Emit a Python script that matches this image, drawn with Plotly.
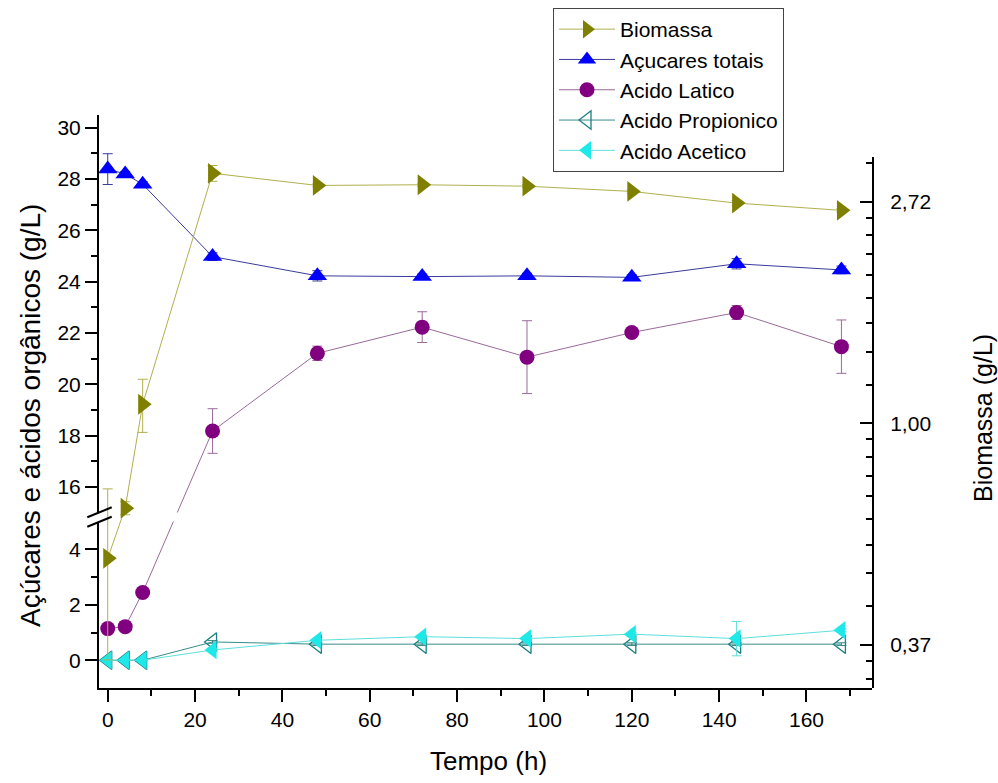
import math
import numpy as np
import plotly.graph_objects as go

# ---------------- data ----------------
tempo = [0, 4, 8, 24, 48, 72, 96, 120, 144, 168]
biomassa = [0.544, 0.682, 1.09, 3.09, 2.925, 2.934, 2.915, 2.847, 2.701, 2.614]
biomassa_err = [0.20, 0.02, 0.13, 0.11, 0.02, 0.02, 0.02, 0.02, 0.03, 0.02]
acucares = [28.39, 28.2, 27.8, 24.98, 24.23, 24.2, 24.23, 24.17, 24.7, 24.46]
acucares_err = [0.6, 0.1, 0.1, 0.15, 0.2, 0.1, 0.1, 0.1, 0.2, 0.15]
latico = [1.14, 1.21, 2.44, 18.18, 21.21, 22.23, 21.06, 22.02, 22.8, 21.47]
latico_err = [0.05, 0.05, 0.05, 0.87, 0.28, 0.6, 1.42, 0.1, 0.27, 1.04]
propionico = [0, 0, 0, 0.66, 0.58, 0.58, 0.58, 0.58, 0.58, 0.58]
propionico_err = [0, 0, 0, 0.05, 0.05, 0.05, 0.05, 0.05, 0.05, 0.05]
acetico = [0, 0, 0, 0.37, 0.72, 0.85, 0.78, 0.94, 0.78, 1.08]
acetico_err = [0, 0, 0, 0.05, 0.05, 0.05, 0.05, 0.05, 0.62, 0.05]

x_ticks = [0, 20, 40, 60, 80, 100, 120, 140, 160]
low_ticks = [0, 2, 4]
up_ticks = [16, 18, 20, 22, 24, 26, 28, 30]
bio_ticks = [math.e ** -1, 1.0, math.e]
bio_ticktext = ["0,37", "1,00", "2,72"]

# ---------------- layout geometry ----------------
W, H = 998, 783
ML, MR, MT, MB = 99, 126, 115, 95
PH = H - MT - MB
low_rng = [-1, 5]
up_rng = [15, 30.5]
low_dom = [0, (688 - 521.5) / PH]
up_dom = [(688 - 512.6) / PH, 1]
bio_dom = [0, (688 - 157) / PH]
bio_rng = [-1.194 * math.log10(math.e), 1.2016 * math.log10(math.e)]


def to_paper(v, rng, dom):
    return dom[0] + (v - rng[0]) / (rng[1] - rng[0]) * (dom[1] - dom[0])


def from_paper(p, rng, dom):
    return rng[0] + (p - dom[0]) / (dom[1] - dom[0]) * (rng[1] - rng[0])


def split_low(vals):
    return [v < up_rng[0] for v in vals]


C_BIO, C_BIO_L = "#808000", "#b0b050"
C_ACU, C_ACU_L = "#0000ff", "#3a3a9a"
C_LAT, C_LAT_L = "#800080", "#9a6a9a"
C_PRO, C_PRO_L = "#1a7f7f", "#3a8a8a"
C_ACE, C_ACE_L = "#1ee8e8", "#5fdede"

fig = go.Figure()

# Biomassa on right log axis
fig.add_trace(go.Scatter(
    x=tempo, y=biomassa, name="Biomassa", yaxis="y3", mode="lines+markers",
    line=dict(color=C_BIO_L, width=1),
    marker=dict(symbol="triangle-right", size=18, color=C_BIO),
    error_y=dict(type="data", array=biomassa_err, color=C_BIO_L, thickness=1, width=5),
    legendrank=1,
))

# Açucares totais (upper segment)
fig.add_trace(go.Scatter(
    x=tempo, y=acucares, name="Açucares totais", yaxis="y2", mode="lines+markers",
    line=dict(color=C_ACU_L, width=1),
    marker=dict(symbol="triangle-up", size=17, color=C_ACU),
    error_y=dict(type="data", array=acucares_err, color=C_ACU_L, thickness=1, width=5),
    legendrank=2,
))


def add_split(vals, errs, name, symbol, color, lcolor, rank):
    low = split_low(vals)
    lx, ly, le, ux, uy, ue = [], [], [], [], [], []
    for i, (t, v, e) in enumerate(zip(tempo, vals, errs)):
        if low[i]:
            lx.append(t); ly.append(v); le.append(e)
            if i + 1 < len(vals) and not low[i + 1]:
                # bridge point into upper segment
                ux.append(t)
                uy.append(from_paper(to_paper(v, low_rng, low_dom), up_rng, up_dom))
                ue.append(None)
        else:
            ux.append(t); uy.append(v); ue.append(e)
            if i - 1 >= 0 and low[i - 1]:
                lx.append(t)
                ly.append(from_paper(to_paper(v, up_rng, up_dom), low_rng, low_dom))
                le.append(None)
    common = dict(mode="lines+markers", line=dict(color=lcolor, width=1),
                  marker=dict(symbol=symbol, size=15, color=color), legendgroup=name,
                  name=name)
    if lx:
        fig.add_trace(go.Scatter(x=lx, y=ly, yaxis="y", showlegend=True, legendrank=rank,
                                 error_y=dict(type="data", array=le, color=lcolor, thickness=1, width=5),
                                 **common))
    if ux:
        fig.add_trace(go.Scatter(x=ux, y=uy, yaxis="y2", showlegend=not lx, legendrank=rank,
                                 error_y=dict(type="data", array=ue, color=lcolor, thickness=1, width=5),
                                 **common))


add_split(latico, latico_err, "Acido Latico", "circle", C_LAT, C_LAT_L, 3)

fig.add_trace(go.Scatter(
    x=tempo, y=propionico, name="Acido Propionico", yaxis="y", mode="lines+markers",
    line=dict(color=C_PRO_L, width=1),
    marker=dict(symbol="triangle-left-open", size=16, color=C_PRO, line=dict(width=1.3)),
    error_y=dict(type="data", array=propionico_err, color=C_PRO_L, thickness=1, width=5),
    legendrank=4,
))
fig.add_trace(go.Scatter(
    x=tempo, y=acetico, name="Acido Acetico", yaxis="y", mode="lines+markers",
    line=dict(color=C_ACE_L, width=1),
    marker=dict(symbol="triangle-left", size=16, color=C_ACE),
    error_y=dict(type="data", array=acetico_err, color=C_ACE_L, thickness=1, width=5),
    legendrank=5,
))

FONT = "Liberation Sans, Arial, sans-serif"
axis_common = dict(showline=True, linecolor="black", linewidth=2, showgrid=False,
                   zeroline=False, tickcolor="black", tickwidth=2, ticklen=12,
                   tickfont=dict(size=21, color="black", family=FONT))

fig.update_layout(
    width=W, height=H,
    margin=dict(l=ML, r=MR, t=MT, b=MB, autoexpand=False),
    paper_bgcolor="white", plot_bgcolor="rgba(0,0,0,0)",
    font=dict(family=FONT, color="black"),
    xaxis=dict(domain=[0, 1], range=[-2, 175], anchor="y", ticks="outside",
               tickmode="array", tickvals=x_ticks,
               minor=dict(dtick=10, ticklen=6, tickwidth=2, tickcolor="black", ticks="outside"),
               **axis_common),
    yaxis=dict(domain=low_dom, range=low_rng, anchor="x", ticks="outside",
               tickmode="array", tickvals=low_ticks,
               minor=dict(tickmode="array", tickvals=[1, 3], ticklen=6, tickwidth=2,
                          tickcolor="black", ticks="outside"),
               **axis_common),
    yaxis2=dict(domain=up_dom, range=up_rng, anchor="x", ticks="outside",
                tickmode="array", tickvals=up_ticks,
                minor=dict(tickmode="array", tickvals=[17, 19, 21, 23, 25, 27, 29], ticklen=6,
                           tickwidth=2, tickcolor="black", ticks="outside"),
                **axis_common),
    yaxis3=dict(domain=bio_dom, type="log", range=bio_rng, anchor="x", side="right",
                ticks="inside", tickmode="array", tickvals=bio_ticks, ticktext=bio_ticktext,
                ticklabelstandoff=12,
                minor=dict(tickmode="array",
                           tickvals=[float(v) for k in (-2, -1, 0, 1)
                                     for v in np.linspace(math.e ** k, math.e ** (k + 1), 10)[1:-1]],
                           ticklen=6, tickwidth=2, tickcolor="black", ticks="inside"),
                **axis_common),
    legend=dict(x=(553 - ML) / (W - ML - MR), y=1 + (MT - 8) / PH, xanchor="left", yanchor="top",
                bgcolor="white", bordercolor="#444", borderwidth=1,
                font=dict(size=21, family=FONT, color="black"),
                itemwidth=56, tracegroupgap=0),
    showlegend=True,
)


def px2paper(px, py):
    return (px - ML) / (W - ML - MR), (688 - py) / PH


shapes = []
for (x0, y0, x1, y1) in [(87.3, 517.3, 111.7, 507.3), (87.3, 526.7, 111.7, 516.7)]:
    a, b = px2paper(x0, y0)
    c, d = px2paper(x1, y1)
    shapes.append(dict(type="line", xref="paper", yref="paper", x0=a, y0=b, x1=c, y1=d,
                       line=dict(color="black", width=2)))
fig.update_layout(shapes=shapes)

ax, ay = px2paper(30, 416)
bx, by = px2paper(983, 418)
tx, ty = px2paper(489, 761)
fig.update_layout(annotations=[
    dict(text="Açúcares e ácidos orgânicos (g/L)", x=ax, y=ay, xref="paper", yref="paper",
         textangle=-90, showarrow=False, xanchor="center", yanchor="middle",
         font=dict(size=28, family=FONT, color="black")),
    dict(text="Biomassa (g/L)", x=bx, y=by, xref="paper", yref="paper",
         textangle=-90, showarrow=False, xanchor="center", yanchor="middle",
         font=dict(size=25, family=FONT, color="black")),
    dict(text="Tempo (h)", x=tx, y=ty, xref="paper", yref="paper",
         showarrow=False, xanchor="center", yanchor="middle",
         font=dict(size=26, family=FONT, color="black")),
])

fig.write_html("out.html")
